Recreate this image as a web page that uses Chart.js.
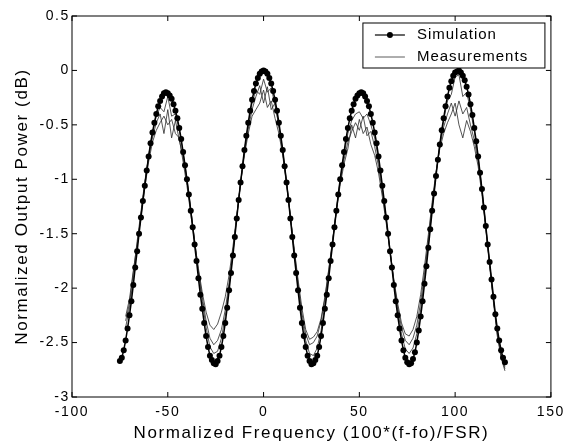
<!DOCTYPE html>
<html>
<head>
<meta charset="utf-8">
<script src="https://cdn.jsdelivr.net/npm/chart.js@4.4.0/dist/chart.umd.min.js"></script>
<style>
  html, body { margin: 0; padding: 0; background: #fff; }
  canvas { display: block; }
</style>
</head>
<body>
<canvas id="chart" width="572" height="444"></canvas>
<script>
// axis ticks
const xTicks = [-100, -50, 0, 50, 100, 150];
const yTicks = [0.5, 0, -0.5, -1, -1.5, -2, -2.5, -3];

// simulation (dotted curve)
const simX = [
  -75, -74, -73, -72, -71, -70, -69, -68, -67, -66, -65, -64, -63, -62, -61, -60, -59, -58, -57, -56,
  -55, -54, -53, -52, -51, -50, -49, -48, -47, -46, -45, -44, -43, -42, -41, -40, -39, -38, -37, -36,
  -35, -34, -33, -32, -31, -30, -29, -28, -27, -26, -25, -24, -23, -22, -21, -20, -19, -18, -17, -16,
  -15, -14, -13, -12, -11, -10, -9, -8, -7, -6, -5, -4, -3, -2, -1, 0, 1, 2, 3, 4,
  5, 6, 7, 8, 9, 10, 11, 12, 13, 14, 15, 16, 17, 18, 19, 20, 21, 22, 23, 24,
  25, 26, 27, 28, 29, 30, 31, 32, 33, 34, 35, 36, 37, 38, 39, 40, 41, 42, 43, 44,
  45, 46, 47, 48, 49, 50, 51, 52, 53, 54, 55, 56, 57, 58, 59, 60, 61, 62, 63, 64,
  65, 66, 67, 68, 69, 70, 71, 72, 73, 74, 75, 76, 77, 78, 79, 80, 81, 82, 83, 84,
  85, 86, 87, 88, 89, 90, 91, 92, 93, 94, 95, 96, 97, 98, 99, 100, 101, 102, 103, 104,
  105, 106, 107, 108, 109, 110, 111, 112, 113, 114, 115, 116, 117, 118, 119, 120, 121, 122, 123, 124,
  125, 126
];
const simY = [
  -2.67, -2.64, -2.57, -2.48, -2.37, -2.25, -2.12, -1.97, -1.81, -1.66,
  -1.50, -1.35, -1.20, -1.06, -0.92, -0.79, -0.67, -0.57, -0.48, -0.40,
  -0.33, -0.28, -0.24, -0.21, -0.20, -0.21, -0.23, -0.26, -0.31, -0.37,
  -0.44, -0.53, -0.63, -0.75, -0.87, -1.00, -1.14, -1.29, -1.44, -1.60,
  -1.75, -1.91, -2.06, -2.19, -2.32, -2.44, -2.54, -2.62, -2.66, -2.69,
  -2.70, -2.67, -2.62, -2.54, -2.44, -2.32, -2.18, -2.02, -1.86, -1.70,
  -1.53, -1.36, -1.19, -1.03, -0.88, -0.73, -0.60, -0.48, -0.37, -0.27,
  -0.19, -0.12, -0.07, -0.03, -0.01, 0.00, -0.01, -0.03, -0.07, -0.12,
  -0.19, -0.27, -0.37, -0.48, -0.60, -0.73, -0.88, -1.03, -1.19, -1.36,
  -1.53, -1.70, -1.86, -2.02, -2.18, -2.32, -2.44, -2.54, -2.62, -2.67,
  -2.70,
  -2.69, -2.66, -2.62, -2.54, -2.44, -2.32, -2.19, -2.06, -1.91, -1.75,
  -1.60, -1.44, -1.29, -1.14, -1.00, -0.87, -0.75, -0.63, -0.53, -0.44,
  -0.37, -0.31, -0.26, -0.23, -0.21, -0.20, -0.21, -0.24, -0.28, -0.33,
  -0.40, -0.48, -0.57, -0.67, -0.79, -0.92, -1.06, -1.20, -1.35, -1.50,
  -1.66, -1.81, -1.97, -2.12, -2.25, -2.37, -2.48, -2.57, -2.64, -2.68,
  -2.70,
  -2.69, -2.65, -2.59, -2.50, -2.39, -2.26, -2.12, -1.96, -1.80, -1.63,
  -1.46, -1.29, -1.13, -0.97, -0.82, -0.68, -0.55, -0.44, -0.33, -0.24,
  -0.16, -0.10, -0.05, -0.02, -0.01, 0.00, -0.02, -0.05, -0.09, -0.15,
  -0.22, -0.31, -0.41, -0.53, -0.65, -0.79, -0.94, -1.09, -1.26, -1.43,
  -1.60, -1.76, -1.92, -2.08, -2.24, -2.37, -2.48, -2.57, -2.64, -2.68
];

// measurements (three thin traces, shared x)
const measX = [
  -72, -70, -68, -66, -64, -62, -60, -58, -56, -54, -52, -50, -48, -46, -44, -42, -40, -38, -36, -34,
  -32, -30, -28, -26, -24, -22, -20, -18, -16, -14, -12, -10, -8, -6, -4, -2, 0, 2, 4, 6,
  8, 10, 12, 14, 16, 18, 20, 22, 24, 26, 28, 30, 32, 34, 36, 38, 40, 42, 44, 46,
  48, 50, 52, 54, 56, 58, 60, 62, 64, 66, 68, 70, 72, 74, 76, 78, 80, 82, 84, 86,
  88, 90, 92, 94, 96, 98, 100, 102, 104, 106, 108, 110, 112, 114, 116, 118, 120, 122, 124, 126
];
const measA = [
  -2.36, -2.18, -1.92, -1.62, -1.32, -1.04, -0.78, -0.58, -0.42, -0.34,
  -0.38, -0.24, -0.42, -0.40, -0.55, -0.76, -1.00, -1.27, -1.56, -1.86,
  -2.12, -2.36, -2.54, -2.60, -2.58, -2.46, -2.26, -1.98, -1.68, -1.35,
  -1.03, -0.74, -0.50, -0.30, -0.18, -0.22, -0.08, -0.20, -0.16, -0.32,
  -0.50, -0.74, -1.02, -1.34, -1.67, -1.98, -2.27, -2.48, -2.60, -2.62,
  -2.55, -2.39, -2.15, -1.88, -1.58, -1.28, -1.00, -0.78, -0.58, -0.46,
  -0.40, -0.38, -0.44, -0.40, -0.50, -0.62, -0.82, -1.08, -1.36, -1.65,
  -1.94, -2.20, -2.42, -2.56, -2.60, -2.55, -2.42, -2.20, -1.92, -1.60,
  -1.27, -0.96, -0.68, -0.46, -0.28, -0.22, -0.06, -0.04, -0.24, -0.20,
  -0.36, -0.56, -0.80, -1.09, -1.43, -1.77, -2.10, -2.40, -2.60, -2.72
];
const measB = [
  -2.30, -2.14, -1.86, -1.57, -1.30, -1.02, -0.80, -0.62, -0.48, -0.40,
  -0.58, -0.36, -0.62, -0.46, -0.64, -0.80, -1.02, -1.28, -1.56, -1.84,
  -2.08, -2.30, -2.46, -2.52, -2.48, -2.38, -2.20, -1.95, -1.66, -1.34,
  -1.03, -0.76, -0.54, -0.36, -0.24, -0.14, -0.30, -0.15, -0.36, -0.30,
  -0.52, -0.76, -1.03, -1.33, -1.65, -1.95, -2.23, -2.42, -2.52, -2.50,
  -2.44, -2.30, -2.10, -1.84, -1.56, -1.28, -1.02, -0.82, -0.66, -0.56,
  -0.48, -0.55, -0.42, -0.60, -0.56, -0.70, -0.88, -1.12, -1.38, -1.66,
  -1.93, -2.17, -2.36, -2.48, -2.52, -2.46, -2.34, -2.13, -1.86, -1.55,
  -1.24, -0.95, -0.70, -0.52, -0.40, -0.30, -0.42, -0.28, -0.40, -0.34,
  -0.50, -0.64, -0.84, -1.11, -1.44, -1.78, -2.11, -2.42, -2.62, -2.74
];
const measC = [
  -2.26, -2.10, -1.84, -1.60, -1.34, -1.08, -0.84, -0.66, -0.55, -0.48,
  -0.42, -0.50, -0.45, -0.58, -0.62, -0.84, -1.06, -1.32, -1.58, -1.82,
  -2.04, -2.22, -2.34, -2.38, -2.33, -2.22, -2.08, -1.88, -1.62, -1.33,
  -1.04, -0.78, -0.58, -0.42, -0.36, -0.30, -0.18, -0.34, -0.28, -0.44,
  -0.58, -0.78, -1.05, -1.34, -1.64, -1.92, -2.18, -2.38, -2.47, -2.45,
  -2.40, -2.28, -2.08, -1.83, -1.57, -1.30, -1.05, -0.86, -0.72, -0.50,
  -0.62, -0.45, -0.58, -0.52, -0.68, -0.78, -0.94, -1.16, -1.40, -1.66,
  -1.92, -2.14, -2.32, -2.42, -2.44, -2.38, -2.26, -2.06, -1.80, -1.51,
  -1.21, -0.93, -0.72, -0.58, -0.48, -0.40, -0.30, -0.50, -0.62, -0.46,
  -0.56, -0.70, -0.88, -1.14, -1.46, -1.80, -2.13, -2.44, -2.64, -2.76
];

const FONT = '"Liberation Sans", Arial, Helvetica, sans-serif';

// wider tracking like the scanned figure
const spacing = {
  id: 'spacing',
  beforeUpdate(chart) { chart.ctx.letterSpacing = '1.6px'; },
  beforeDraw(chart) { chart.ctx.letterSpacing = '1.6px'; }
};

// box round the plot + inward ticks on all four sides
const frame = {
  id: 'frame',
  afterDraw(chart) {
    const { ctx, chartArea: a, scales: { x, y } } = chart;
    ctx.save();
    ctx.strokeStyle = '#000';
    ctx.lineWidth = 1;
    ctx.strokeRect(a.left, a.top, a.right - a.left, a.bottom - a.top);
    ctx.beginPath();
    xTicks.forEach(v => {
      const px = x.getPixelForValue(v);
      ctx.moveTo(px, a.bottom); ctx.lineTo(px, a.bottom - 5);
      ctx.moveTo(px, a.top); ctx.lineTo(px, a.top + 5);
    });
    yTicks.forEach(v => {
      const py = y.getPixelForValue(v);
      ctx.moveTo(a.left, py); ctx.lineTo(a.left + 5, py);
      ctx.moveTo(a.right, py); ctx.lineTo(a.right - 5, py);
    });
    ctx.stroke();
    ctx.restore();
  }
};

// matlab style legend box in the top right corner
const legendBox = {
  id: 'legendBox',
  afterDraw(chart) {
    const { ctx, chartArea: a } = chart;
    const w = 182, h = 45;
    const left = a.right - 188, top = a.top + 7;
    ctx.save();
    ctx.fillStyle = '#fff';
    ctx.fillRect(left, top, w, h);
    ctx.strokeStyle = '#000';
    ctx.lineWidth = 1;
    ctx.strokeRect(left, top, w, h);

    const rows = [top + 12, top + 34];
    ctx.beginPath();
    ctx.lineWidth = 1.2;
    ctx.moveTo(left + 12, rows[0]); ctx.lineTo(left + 42, rows[0]);
    ctx.stroke();
    ctx.beginPath();
    ctx.fillStyle = '#000';
    ctx.arc(left + 27, rows[0], 3, 0, Math.PI * 2);
    ctx.fill();
    ctx.beginPath();
    ctx.strokeStyle = '#333';
    ctx.lineWidth = 0.8;
    ctx.moveTo(left + 12, rows[1]); ctx.lineTo(left + 42, rows[1]);
    ctx.stroke();

    ctx.letterSpacing = '1px';
    ctx.font = '15px ' + FONT;
    ctx.fillStyle = '#000';
    ctx.textBaseline = 'middle';
    ctx.textAlign = 'left';
    ctx.fillText('Simulation', left + 54, rows[0]);
    ctx.fillText('Measurements', left + 54, rows[1]);
    ctx.restore();
  }
};

const toPoints = (xs, ys) => xs.map((x, i) => ({ x, y: ys[i] }));

const measStyle = {
  showLine: true,
  borderColor: '#2a2a2a',
  borderWidth: 0.8,
  pointRadius: 0,
  pointHoverRadius: 0,
  order: 1
};

new Chart(document.getElementById('chart'), {
  type: 'scatter',
  data: {
    datasets: [
      {
        label: 'Simulation',
        data: toPoints(simX, simY),
        showLine: true,
        borderColor: '#000',
        backgroundColor: '#000',
        borderWidth: 1.5,
        pointRadius: 3,
        pointBorderWidth: 0,
        pointHoverRadius: 3,
        order: 0
      },
      Object.assign({ label: 'Measurements', data: toPoints(measX, measA) }, measStyle),
      Object.assign({ label: 'Measurements 2', data: toPoints(measX, measB) }, measStyle),
      Object.assign({ label: 'Measurements 3', data: toPoints(measX, measC) }, measStyle)
    ]
  },
  options: {
    responsive: false,
    animation: false,
    layout: { padding: { left: 0, top: 16, right: 19, bottom: 0 } },
    plugins: {
      legend: { display: false },
      tooltip: { enabled: false }
    },
    scales: {
      x: {
        type: 'linear',
        min: xTicks[0],
        max: xTicks[xTicks.length - 1],
        afterBuildTicks: s => { s.ticks = xTicks.map(v => ({ value: v })); },
        afterFit: s => { s.height = 47; },
        grid: { display: false, drawTicks: false },
        border: { display: false },
        ticks: { color: '#000', font: { family: FONT, size: 14 }, padding: 7, maxRotation: 0, callback: v => String(v) },
        title: {
          display: true,
          text: 'Normalized Frequency (100*(f-fo)/FSR)',
          color: '#000',
          font: { family: FONT, size: 17 },
          padding: { top: 0, bottom: 0 }
        }
      },
      y: {
        type: 'linear',
        min: yTicks[yTicks.length - 1],
        max: yTicks[0],
        afterBuildTicks: s => { s.ticks = yTicks.slice().reverse().map(v => ({ value: v })); },
        afterFit: s => { s.width = 72; },
        grid: { display: false, drawTicks: false },
        border: { display: false },
        ticks: { color: '#000', font: { family: FONT, size: 14 }, padding: 2, callback: v => String(v) },
        title: {
          display: true,
          text: 'Normalized Output Power (dB)',
          color: '#000',
          font: { family: FONT, size: 17 },
          padding: { top: 12, bottom: 0 }
        }
      }
    }
  },
  plugins: [spacing, frame, legendBox]
});
</script>
</body>
</html>
